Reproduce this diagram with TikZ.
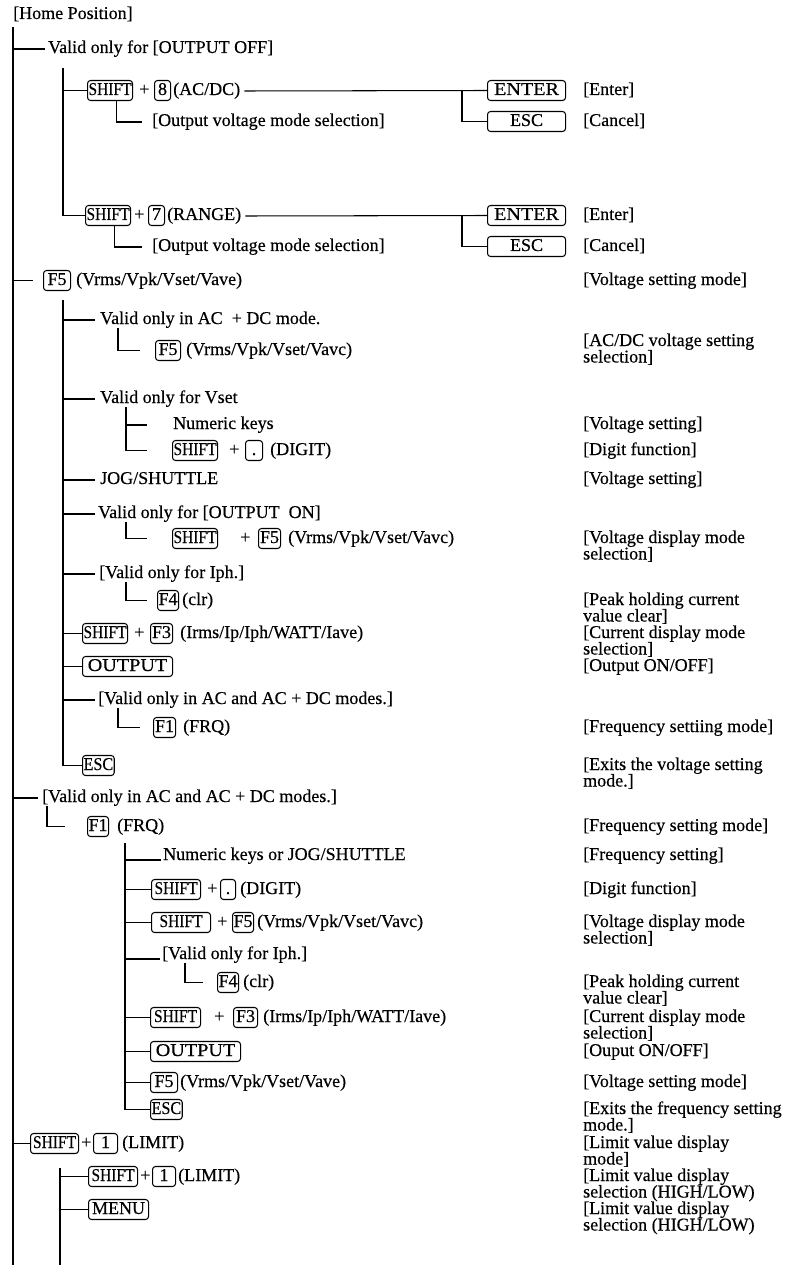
\documentclass[tikz,border=0pt]{standalone}
\usepackage{graphicx}
\usepackage{fontspec}
\setmainfont[FakeBold=0.4]{Liberation Serif}
\newcommand\lblfont{\fontsize{18pt}{16.5pt}\selectfont}
\newcommand\shft{\scalebox{0.86}[1]{SHIFT}}
\newcommand\escw{\scalebox{0.9}[1]{ESC}}
\newcommand\entw{\scalebox{1.12}[1]{ENTER}}
\newcommand\outw{\scalebox{1.12}[1]{OUTPUT}}
\tikzset{
 lbl/.style={anchor=base west, inner sep=0pt, text height=12pt, text depth=4pt, font=\lblfont},
 key/.style={draw, rounded corners=3pt, anchor=base west, inner xsep=1pt, inner ysep=2pt, text height=12.5pt, text depth=3.5pt, font=\lblfont, line width=1.05pt},
 wkey/.style={key, minimum width=78pt},
 ln/.style={line width=1.05pt},
}
\begin{document}
\begin{tikzpicture}[x=1pt,y=-1pt]
\useasboundingbox (0,0) rectangle (794,1265);
% Row 1
\node[lbl] (home) at (13,19) {[Home Position]};
\coordinate (trTop) at (13,27);
\coordinate (trBot) at (13,1265);
\draw[ln] (trTop) -- (trBot);
% Row 2
\node[lbl] (r2) at (48,53) {Valid only for [OUTPUT OFF]};
\draw[ln] (r2.west -| trTop) -- ([xshift=-3pt]r2.west);
\coordinate (a2) at (63,68);
% Row 3
\node[key] (r3s) at (87,95) {\shft};
\node[lbl] (r3p) at (139,95) {+};
\node[key, minimum width=16pt] (r3k) at (154,95) {8};
\node[lbl] (r3t) at (173,95) {(AC/DC)};
\node[wkey] (r3e) at (487,95) {\entw};
\node[lbl] (d3) at (583,95) {[Enter]};
\draw[ln] (r3s.west -| a2) -- (r3s.west);
\draw[ln] ([xshift=4pt]r3t.east) -- (r3e.west);
% Row 4
\node[lbl] (r4) at (152,126) {[Output voltage mode selection]};
\node[wkey] (r4e) at (487,126) {ESC};
\node[lbl] (d4) at (583,126) {[Cancel]};
\draw[ln] ([xshift=6pt]r3s.south) |- ([xshift=-10pt]r4.west);
\draw[ln] ([xshift=-25pt]r3e.west) |- (r4e.west);
% Row 5
\node[key] (r5s) at (85,220) {\shft};
\node[lbl] (r5p) at (134,220) {+};
\node[key, minimum width=16pt] (r5k) at (148,220) {7};
\node[lbl] (r5t) at (167,220) {(RANGE)};
\node[wkey] (r5e) at (487,220) {\entw};
\node[lbl] (d5) at (583,220) {[Enter]};
\draw[ln] (a2) |- (r5s.west);
\draw[ln] ([xshift=4pt]r5t.east) -- (r5e.west);
% Row 6
\node[lbl] (r6) at (152,251) {[Output voltage mode selection]};
\node[wkey] (r6e) at (487,251) {ESC};
\node[lbl] (d6) at (583,251) {[Cancel]};
\draw[ln] ([xshift=6pt]r5s.south) |- ([xshift=-10pt]r6.west);
\draw[ln] ([xshift=-25pt]r5e.west) |- (r6e.west);
% Row 7
\node[key, minimum width=27pt] (r7k) at (43,285) {F5};
\node[lbl] (r7t) at (76,285) {(Vrms/Vpk/Vset/Vave)};
\node[lbl] (d7) at (583,285) {[Voltage setting mode]};
\draw[ln] (r7k.west -| trTop) -- ([xshift=-10pt]r7k.west);
\coordinate (b2) at (63,300);
% Row 8
\node[lbl] (r8) at (100,324) {Valid only in AC\ \ + DC mode.};
\draw[ln] (r8.west -| b2) -- ([xshift=-5pt]r8.west);
% Row 9
\node[key, minimum width=25pt] (r9k) at (155,355) {F5};
\node[lbl] (r9t) at (186,355) {(Vrms/Vpk/Vset/Vavc)};
\node[lbl] (d9) at (583,346) {[AC/DC voltage setting};
\node[lbl] (d9b) at (583,362.5) {selection]};
\draw[ln] ([xshift=18pt]r8.south west) |- ([xshift=-15pt]r9k.west);
% Row 10
\node[lbl] (r10) at (100,403) {Valid only for Vset};
\draw[ln] (r10.west -| b2) -- ([xshift=-5pt]r10.west);
% Row 11
\node[lbl] (r11) at (173,429) {Numeric keys};
\node[lbl] (d11) at (583,429) {[Voltage setting]};
% Row 12
\node[key] (r12s) at (172,455) {\shft};
\node[lbl] (r12p) at (229,455) {+};
\node[key, minimum width=17pt] (r12k) at (245,455) {.};
\node[lbl] (r12t) at (270,455) {(DIGIT)};
\node[lbl] (d12) at (583,455) {[Digit function]};
\coordinate (v10) at ([xshift=26pt]r10.south west);
\draw[ln] (v10) |- ([xshift=-25pt]r12s.west);
\draw[ln] (r11.west -| v10) -- ([xshift=-26pt]r11.west);
% Row 13
\node[lbl] (r13) at (100,484) {JOG/SHUTTLE};
\node[lbl] (d13) at (583,484) {[Voltage setting]};
\draw[ln] (r13.west -| b2) -- ([xshift=-5pt]r13.west);
% Row 14
\node[lbl] (r14) at (98,518) {Valid only for [OUTPUT\ \ ON]};
\draw[ln] (r14.west -| b2) -- ([xshift=-3pt]r14.west);
% Row 15
\node[key] (r15s) at (172,543) {\shft};
\node[lbl] (r15p) at (240,543) {+};
\node[key, minimum width=22pt] (r15k) at (258,543) {F5};
\node[lbl] (r15t) at (288,543) {(Vrms/Vpk/Vset/Vavc)};
\node[lbl] (d15) at (583,543) {[Voltage display mode};
\node[lbl] (d15b) at (583,559.5) {selection]};
\draw[ln] ([xshift=28pt]r14.south west) |- ([xshift=-25pt]r15s.west);
% Row 16
\node[lbl] (r16) at (99,578) {[Valid only for Iph.]};
\draw[ln] (r16.west -| b2) -- ([xshift=-4pt]r16.west);
% Row 17
\node[key, minimum width=19pt] (r17k) at (157,605) {F4};
\node[lbl] (r17t) at (182,605) {(clr)};
\node[lbl] (d17) at (583,605) {[Peak holding current};
\node[lbl] (d17b) at (583,621.5) {value clear]};
\draw[ln] ([xshift=27pt]r16.south west) |- ([xshift=-10pt]r17k.west);
% Row 18
\node[key] (r18s) at (82,638) {\shft};
\node[lbl] (r18p) at (134,638) {+};
\node[key, minimum width=22pt] (r18k) at (150,638) {F3};
\node[lbl] (r18t) at (180,638) {(Irms/Ip/Iph/WATT/Iave)};
\node[lbl] (d18) at (583,638) {[Current display mode};
\node[lbl] (d18b) at (583,654.5) {selection]};
\draw[ln] (r18s.west -| b2) -- (r18s.west);
% Row 19
\node[key, minimum width=90pt] (r19k) at (82,671) {\outw};
\node[lbl] (d19) at (583,671) {[Output ON/OFF]};
\draw[ln] (r19k.west -| b2) -- (r19k.west);
% Row 20
\node[lbl] (r20) at (98,704) {[Valid only in AC and AC + DC modes.]};
\draw[ln] (r20.west -| b2) -- ([xshift=-3pt]r20.west);
% Row 21
\node[key, minimum width=22pt] (r21k) at (153,732) {F1};
\node[lbl] (r21t) at (183,732) {(FRQ)};
\node[lbl] (d21) at (583,732) {[Frequency settiing mode]};
\draw[ln] ([xshift=20pt]r20.south west) |- ([xshift=-13pt]r21k.west);
% Row 22
\node[key, minimum width=30pt] (r22k) at (82,770) {\escw};
\node[lbl] (d22) at (583,770) {[Exits the voltage setting};
\node[lbl] (d22b) at (583,786.5) {mode.]};
\draw[ln] (b2) |- (r22k.west);
% Row 23
\node[lbl] (r23) at (42,802) {[Valid only in AC and AC + DC modes.]};
\draw[ln] (r23.west -| trTop) -- ([xshift=-4pt]r23.west);
% Row 24
\node[key, minimum width=20pt] (r24k) at (87,831) {F1};
\node[lbl] (r24t) at (117,831) {(FRQ)};
\node[lbl] (d24) at (583,831) {[Frequency setting mode]};
\draw[ln] ([xshift=5pt]r23.south west) |- ([xshift=-22pt]r24k.west);
\coordinate (c3) at (125,843);
% Row 25
\node[lbl] (r25) at (163,860) {Numeric keys or JOG/SHUTTLE};
\node[lbl] (d25) at (583,860) {[Frequency setting]};
\draw[ln] (r25.base west -| c3) -- ([xshift=-2pt]r25.base west);
% Row 26
\node[key, minimum width=49pt] (r26s) at (151,894) {\shft};
\node[lbl] (r26p) at (207,894) {+};
\node[key, minimum width=15pt] (r26k) at (220,894) {.};
\node[lbl] (r26t) at (240,894) {(DIGIT)};
\node[lbl] (d26) at (583,894) {[Digit function]};
\draw[ln] (r26s.west -| c3) -- (r26s.west);
% Row 27
\node[key, minimum width=59pt] (r27s) at (151,927) {\shft};
\node[lbl] (r27p) at (217,927) {+};
\node[key, minimum width=20pt] (r27k) at (232,927) {F5};
\node[lbl] (r27t) at (257,927) {(Vrms/Vpk/Vset/Vavc)};
\node[lbl] (d27) at (583,927) {[Voltage display mode};
\node[lbl] (d27b) at (583,943.5) {selection]};
\draw[ln] (r27s.west -| c3) -- (r27s.west);
% Row 28
\node[lbl] (r28) at (162,959) {[Valid only for Iph.]};
\draw[ln] (r28.base west -| c3) -- ([xshift=-2pt]r28.base west);
% Row 29
\node[key, minimum width=21pt] (r29k) at (217,987) {F4};
\node[lbl] (r29t) at (243,987) {(clr)};
\node[lbl] (d29) at (583,987) {[Peak holding current};
\node[lbl] (d29b) at (583,1003.5) {value clear]};
\draw[ln] ([xshift=23pt]r28.south west) |- ([xshift=-14pt]r29k.west);
% Row 30
\node[key, minimum width=50pt] (r30s) at (150,1022) {\shft};
\node[lbl] (r30p) at (214,1022) {+};
\node[key, minimum width=24pt] (r30k) at (233,1022) {F3};
\node[lbl] (r30t) at (263,1022) {(Irms/Ip/Iph/WATT/Iave)};
\node[lbl] (d30) at (583,1022) {[Current display mode};
\node[lbl] (d30b) at (583,1038.5) {selection]};
\draw[ln] (r30s.west -| c3) -- (r30s.west);
% Row 31
\node[key, minimum width=90pt] (r31k) at (150,1056) {\outw};
\node[lbl] (d31) at (583,1056) {[Ouput ON/OFF]};
\draw[ln] (r31k.west -| c3) -- (r31k.west);
% Row 32
\node[key, minimum width=27pt] (r32k) at (150,1087) {F5};
\node[lbl] (r32t) at (180,1087) {(Vrms/Vpk/Vset/Vave)};
\node[lbl] (d32) at (583,1087) {[Voltage setting mode]};
\draw[ln] (r32k.west -| c3) -- (r32k.west);
% Row 33
\node[key, minimum width=30pt] (r33k) at (150,1114) {\escw};
\node[lbl] (d33) at (583,1114) {[Exits the frequency setting};
\node[lbl] (d33b) at (583,1130.5) {mode.]};
\draw[ln] (c3) |- (r33k.west);
% Row 34
\node[key, minimum width=48pt] (r34s) at (30,1148) {\shft};
\node[lbl] (r34p) at (81,1148) {+};
\node[key, minimum width=24pt] (r34k) at (93,1148) {1};
\node[lbl] (r34t) at (122,1148) {(LIMIT)};
\node[lbl] (d34) at (583,1148) {[Limit value display};
\node[lbl] (d34b) at (583,1164.5) {mode]};
\draw[ln] (r34s.west -| trTop) -- (r34s.west);
\coordinate (s2) at (60,1168);
\coordinate (s2b) at (60,1265);
\draw[ln] (s2) -- (s2b);
% Row 35
\node[key, minimum width=49pt] (r35s) at (88,1181) {\shft};
\node[lbl] (r35p) at (140,1181) {+};
\node[key, minimum width=23pt] (r35k) at (152,1181) {1};
\node[lbl] (r35t) at (178,1181) {(LIMIT)};
\node[lbl] (d35) at (583,1181) {[Limit value display};
\node[lbl] (d35b) at (583,1197.5) {selection (HIGH/LOW)};
\draw[ln] (r35s.west -| s2) -- (r35s.west);
% Row 36
\node[key, minimum width=60pt] (r36k) at (88,1214) {MENU};
\node[lbl] (d36) at (583,1214) {[Limit value display};
\node[lbl] (d36b) at (583,1230.5) {selection (HIGH/LOW)};
\draw[ln] (r36k.west -| s2) -- (r36k.west);
\end{tikzpicture}
\end{document}
